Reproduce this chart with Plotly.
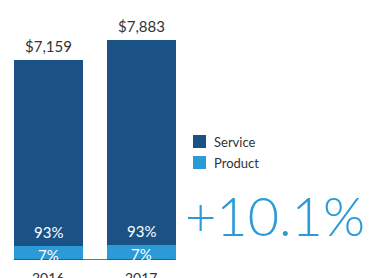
import plotly.graph_objects as go

years = ["2016", "2017"]
totals = [7159, 7883]
total_labels = ["$7,159", "$7,883"]
service_pct = [93, 93]
product_pct = [7, 7]
growth_label = "+10.1%"

service_vals = [t * s / 100 for t, s in zip(totals, service_pct)]
product_vals = [t * p / 100 for t, p in zip(totals, product_pct)]

DARK = "#1b5286"
LIGHT = "#2b9ad6"
TXT = "#333333"
FONT = "Lato"

W, H = 390, 278
plot_h = 260

xs = [0, 1]
fig = go.Figure()
fig.add_trace(go.Bar(x=xs, y=product_vals, name="Product", marker_color=LIGHT,
                     marker_line_width=0, width=0.742, showlegend=False))
fig.add_trace(go.Bar(x=xs, y=service_vals, name="Service", marker_color=DARK,
                     marker_line_width=0, width=0.742, showlegend=False))

ann = []
for x, t, lab in zip(xs, totals, total_labels):
    ann.append(dict(x=x, y=t, text=lab, showarrow=False, yanchor="bottom", yshift=3,
                    font=dict(family=FONT, size=15, color=TXT)))
for x, p, sp, pp in zip(xs, product_vals, service_pct, product_pct):
    ann.append(dict(x=x, y=p, text=f"{sp}%", showarrow=False, yanchor="bottom", yshift=3,
                    font=dict(family=FONT, size=15, color="white")))
    ann.append(dict(x=x, y=p / 2, text=f"{pp}%", showarrow=False, yanchor="middle", yshift=-2,
                    font=dict(family=FONT, size=15, color="white")))
for x, yr in zip(xs, years):
    ann.append(dict(x=x, y=0, text=yr, showarrow=False, yanchor="top", yshift=-7,
                    font=dict(family=FONT, size=14, color=TXT)))

ann.append(dict(xref="paper", yref="paper", x=183 / W, y=1 - 215 / plot_h,
                xanchor="left", yanchor="middle", text=growth_label, showarrow=False,
                font=dict(family=FONT, size=54, color=LIGHT, weight=300)))

# custom legend (Service first, then Product)
shapes = [dict(type="line", xref="x", yref="y", x0=-0.37, x1=1.37, y0=0, y1=0,
               line=dict(color="#444444", width=1.5))]
legend_items = [(tr.name, tr.marker.color) for tr in reversed(fig.data)]
for i, (name, col) in enumerate(legend_items):
    top = 135 + i * 21
    shapes.append(dict(type="rect", xref="paper", yref="paper",
                       x0=193 / W, x1=206 / W, y0=1 - (top + 13) / plot_h, y1=1 - top / plot_h,
                       fillcolor=col, line=dict(width=0)))
    ann.append(dict(xref="paper", yref="paper", x=212 / W, y=1 - (top + 6.5) / plot_h,
                    xanchor="left", yanchor="middle", text=name, showarrow=False,
                    font=dict(family=FONT, size=13, color=TXT)))

px_per_unit = 200 / 7159
fig.update_layout(
    width=W, height=H,
    margin=dict(l=0, r=0, t=0, b=H - plot_h, autoexpand=False),
    barmode="stack",
    bargap=0,
    paper_bgcolor="white", plot_bgcolor="white",
    showlegend=False,
    hovermode=False,
    xaxis=dict(range=[-48 / 93, (W - 48) / 93], showgrid=False, zeroline=False,
               showticklabels=False, ticks="", showline=False, automargin=False),
    yaxis=dict(range=[0, plot_h / px_per_unit], visible=False, automargin=False),
    annotations=ann,
    shapes=shapes,
    font=dict(family=FONT),
)
fig.write_html("out.html", config={"displayModeBar": False, "staticPlot": True},
               post_script="document.body.style.margin='0';document.body.style.overflow='hidden';")
